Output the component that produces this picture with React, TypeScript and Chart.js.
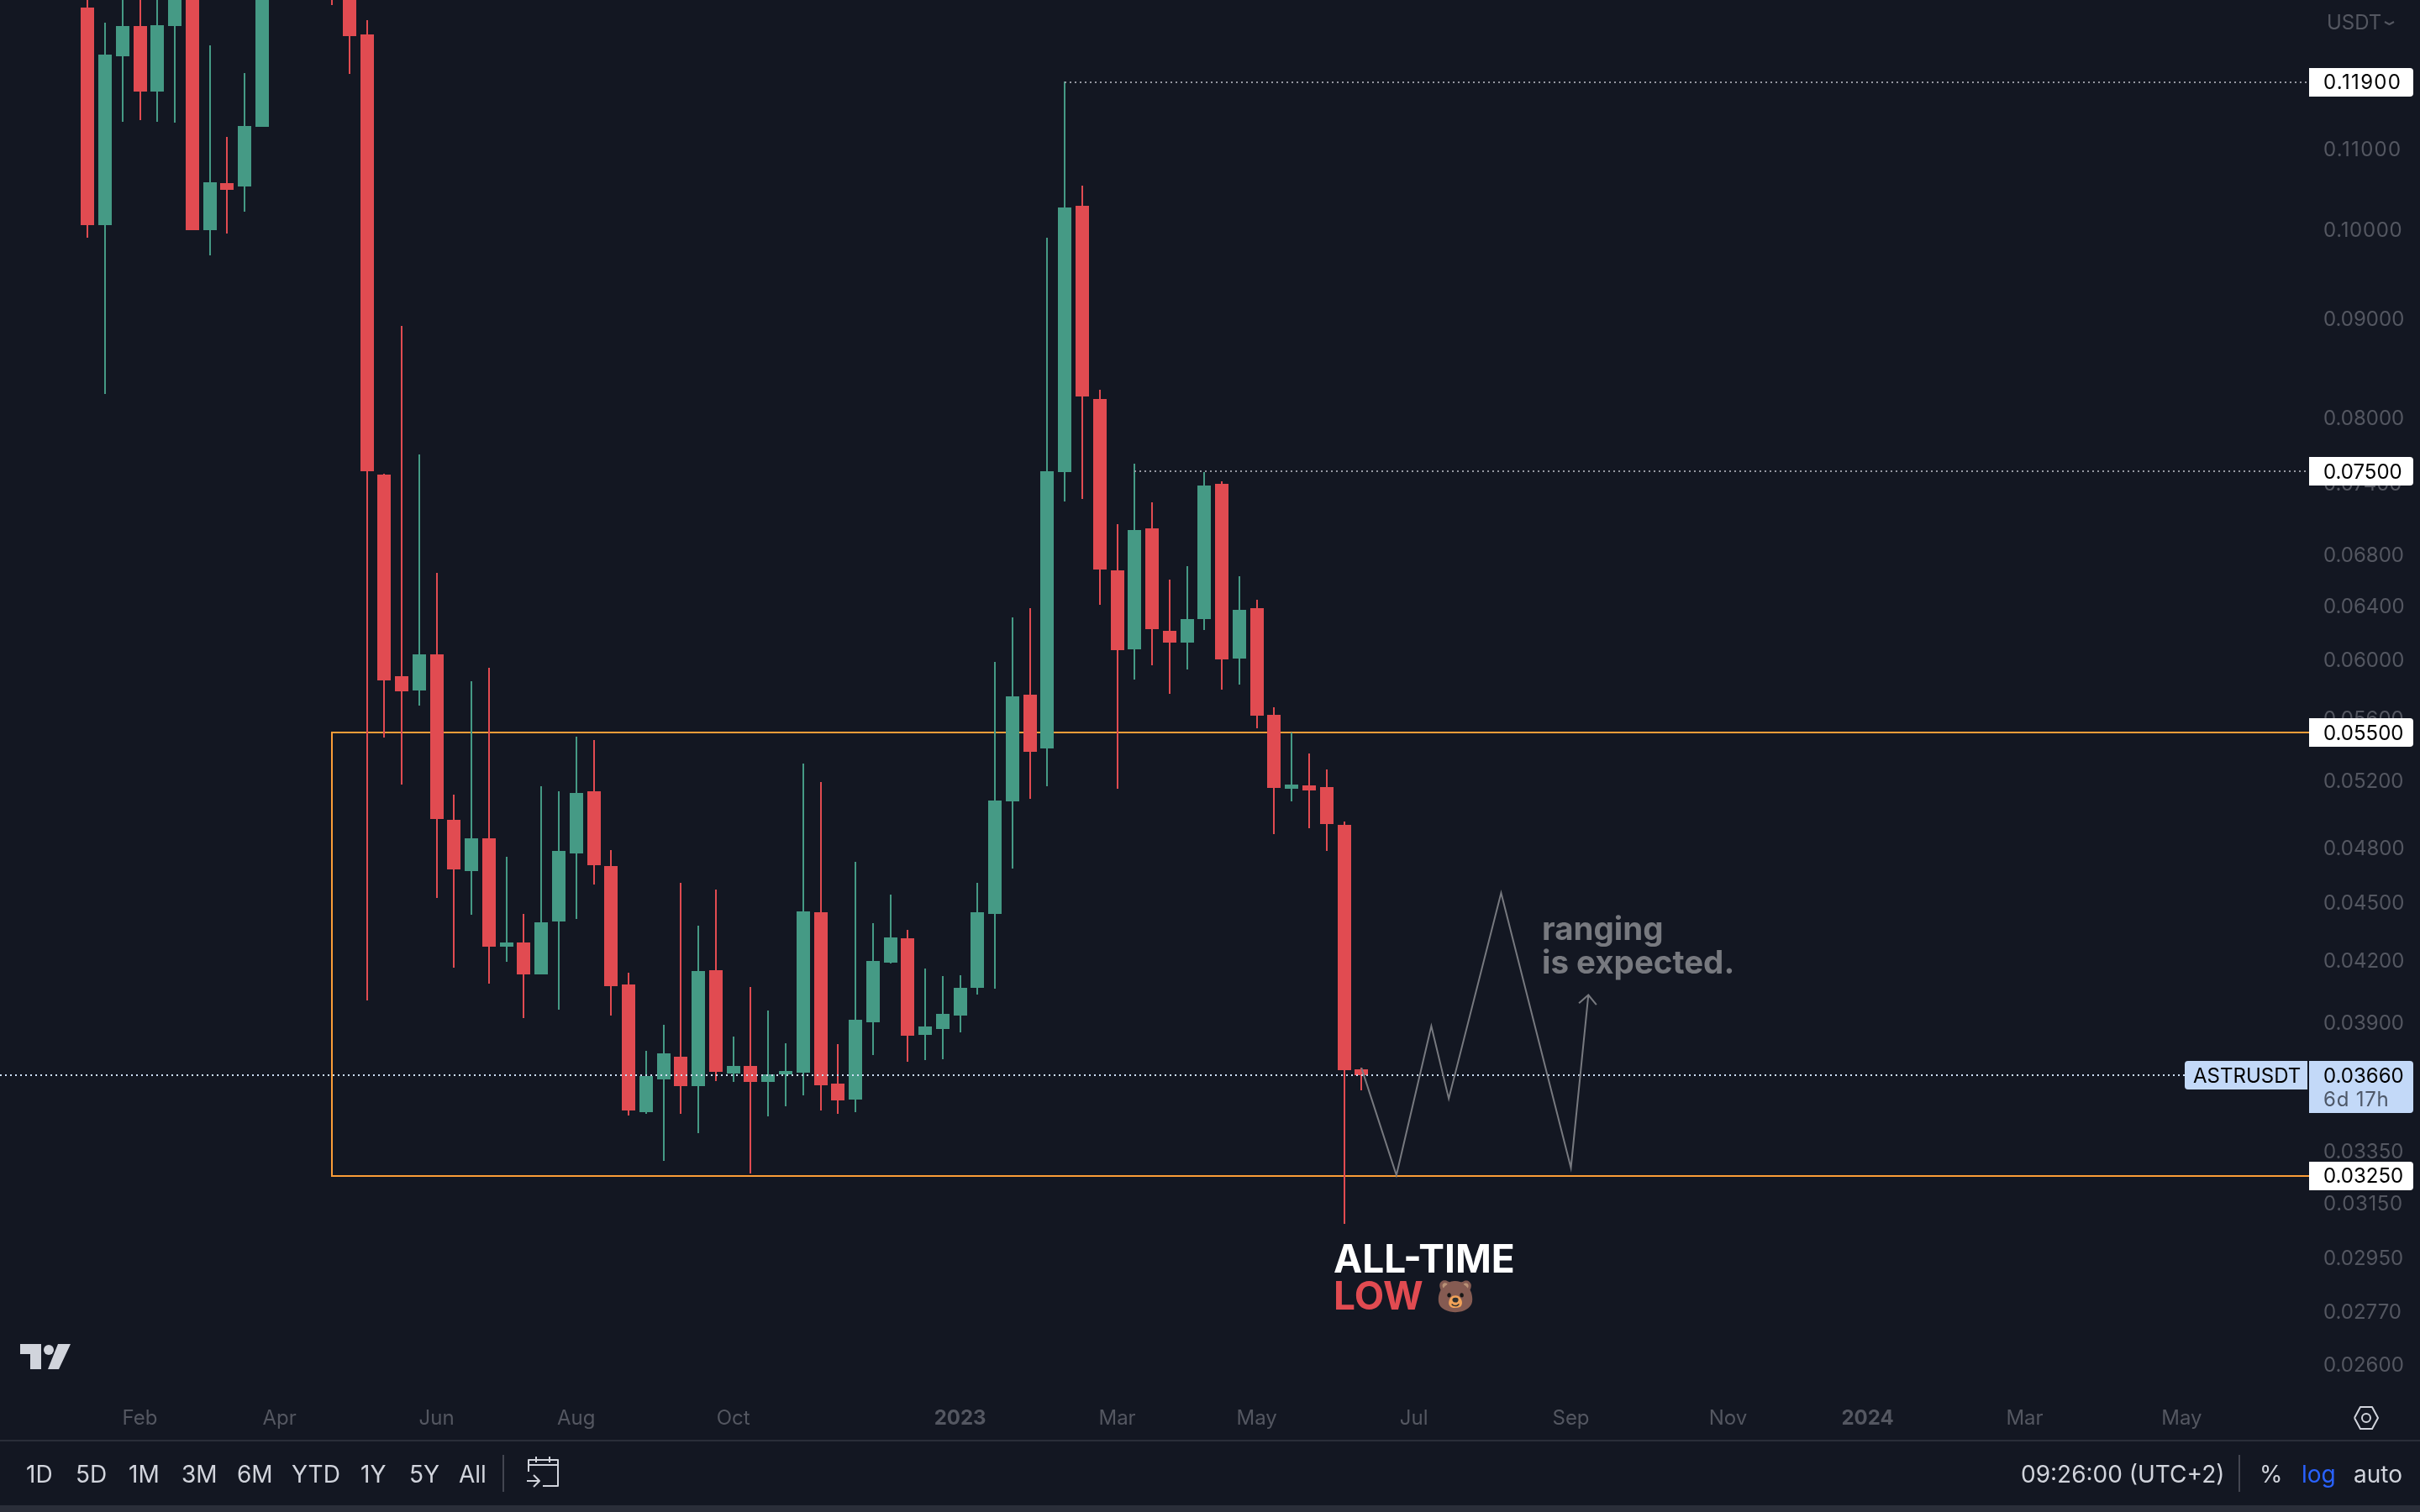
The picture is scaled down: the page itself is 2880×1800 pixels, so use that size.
import React, { useEffect, useRef } from "react";
import { Chart, registerables } from "chart.js";

Chart.register(...registerables);

const FONT = "Inter";
const BG = "#131722";
const UP = "#459a85";
const DOWN = "#e14b51";
const AXIS_TEXT = "#545761";
const CHROME_TEXT = "#d1d4dc";
const ORANGE = "#fb9d38";
const DRAW_GRAY = "#77797f";

const opens: (number | null)[] = [
  0.12996, 0.10039, 0.12265, 0.12716, 0.11763, 0.12716, 0.1345, 0.09977, 0.10552, 0.1051, 0.11281, null, null, null,
  0.14, 0.1335, 0.12587, 0.07463, 0.05876, 0.05777, 0.06031, 0.04956, 0.04664, 0.04848, 0.04263, 0.04285, 0.04125,
  0.04392, 0.04763, 0.05126, 0.04692, 0.04075, 0.03503, 0.03641, 0.03741, 0.03613, 0.04145, 0.03667, 0.037, 0.03631,
  0.03664, 0.03671, 0.04441, 0.03624, 0.03556, 0.03896, 0.04183, 0.04305, 0.03839, 0.03866, 0.03928, 0.04059, 0.04431,
  0.05065, 0.0575, 0.05394, 0.07485, 0.10271, 0.08166, 0.06664, 0.06067, 0.07005, 0.06201, 0.06116, 0.0629, 0.07383,
  0.06002, 0.06369, 0.05613, 0.05143, 0.05163, 0.05151, 0.04925, 0.03684,
];
const closes: (number | null)[] = [
  0.10039, 0.12287, 0.12716, 0.11763, 0.12727, 0.1345, 0.09977, 0.10562, 0.10467, 0.11291, 0.1345, null, null, null,
  0.1335, 0.12564, 0.07494, 0.05848, 0.05772, 0.06031, 0.0496, 0.04673, 0.04848, 0.04263, 0.04285, 0.04125, 0.04387,
  0.04776, 0.05116, 0.04695, 0.04067, 0.0351, 0.03657, 0.03756, 0.03613, 0.04142, 0.03674, 0.037, 0.03631, 0.03664,
  0.03678, 0.04445, 0.03617, 0.03552, 0.03909, 0.04191, 0.0431, 0.03835, 0.03878, 0.03936, 0.04059, 0.0444, 0.0507,
  0.05736, 0.05372, 0.07494, 0.10248, 0.08189, 0.06668, 0.0606, 0.06989, 0.06215, 0.06116, 0.0629, 0.0737, 0.05995,
  0.06359, 0.05607, 0.05147, 0.05166, 0.05131, 0.04931, 0.03681, 0.0366,
];
const highs: (number | null)[] = [
  0.134, 0.12766, 0.134, 0.134, 0.134, 0.137, 0.137, 0.12425, 0.11145, 0.12022, 0.137, null, null, null,
  0.142, 0.136, 0.12801, 0.07473, 0.08906, 0.07646, 0.06643, 0.05106, 0.05841, 0.05936, 0.04744, 0.04432, 0.05157,
  0.05125, 0.05469, 0.05448, 0.04781, 0.04134, 0.03767, 0.03886, 0.04598, 0.0437, 0.04562, 0.03831, 0.04064, 0.03952,
  0.03801, 0.05297, 0.05184, 0.03798, 0.04714, 0.04384, 0.04535, 0.0435, 0.04154, 0.04116, 0.0412, 0.04598, 0.05977,
  0.06301, 0.06369, 0.09885, 0.119, 0.10522, 0.08255, 0.07037, 0.07563, 0.07225, 0.06589, 0.06695, 0.07485, 0.07404,
  0.06615, 0.06436, 0.05665, 0.05498, 0.05362, 0.0526, 0.04945, 0.03692,
];
const lows: (number | null)[] = [
  0.09888, 0.08217, 0.11346, 0.11372, 0.11346, 0.11337, 0.09977, 0.09683, 0.09936, 0.10201, 0.11281, null, null, null,
  0.13036, 0.12011, 0.03998, 0.05465, 0.05167, 0.05676, 0.04518, 0.04158, 0.04427, 0.0408, 0.04186, 0.03916, 0.04125,
  0.03955, 0.04405, 0.04589, 0.03929, 0.03489, 0.03496, 0.03306, 0.03496, 0.03417, 0.03634, 0.03631, 0.03257, 0.03485,
  0.03526, 0.03573, 0.0351, 0.03496, 0.03503, 0.03749, 0.04178, 0.03717, 0.03726, 0.0373, 0.0385, 0.04027, 0.04055,
  0.04677, 0.05081, 0.05157, 0.07228, 0.07253, 0.06395, 0.05143, 0.05853, 0.05954, 0.05753, 0.05923, 0.06207, 0.05782,
  0.05819, 0.05524, 0.04873, 0.05065, 0.04905, 0.04776, 0.03067, 0.03593,
];

const priceTicks = [
  0.11, 0.1, 0.09, 0.08, 0.074, 0.068, 0.064, 0.06, 0.056, 0.052, 0.048, 0.045, 0.042, 0.039, 0.0335, 0.0315, 0.0295,
  0.0277, 0.026,
];
const monthWeeks = [3, 11, 20, 28, 37, 50, 59, 67, 76, 85, 94, 102, 111, 120];
const monthLabels = ["Feb", "Apr", "Jun", "Aug", "Oct", "2023", "Mar", "May", "Jul", "Sep", "Nov", "2024", "Mar", "May"];

const WEEK_MIN = -5.02;
const WEEK_MAX = 127.3;
const PRICE_MIN = 0.025055;
const PRICE_MAX = 0.13112;

const ZONE_TOP = 0.055;
const ZONE_BOTTOM = 0.0325;
const ZONE_START = 14;
const HIGH_LEVEL = 0.119;
const HIGH_LEVEL_START = 56;
const MID_LEVEL = 0.075;
const MID_LEVEL_START = 60;
const LAST_PRICE = 0.0366;
const LAST_PRICE_END = 120.2;

const pathWeeks = [73, 75, 77, 78, 81, 85, 86];
const pathPrices = [0.03691, 0.0325, 0.03879, 0.03559, 0.04543, 0.03279, 0.04025];
const arrowWeeks = [85.46, 86, 86.46];
const arrowPrices = [0.03986, 0.04025, 0.03979];

const rangeButtons: [string, number][] = [
  ["1D", 31], ["5D", 90], ["1M", 153], ["3M", 216], ["6M", 282], ["YTD", 347], ["1Y", 429], ["5Y", 487], ["All", 546],
];

const weeks = opens.map((_, i) => i).filter((i) => opens[i] !== null);
const candleColor = (i: number) => ((closes[i] as number) >= (opens[i] as number) ? UP : DOWN);

// The reference uses tabular digits; Inter's narrow "1" is widened by tracking the string.
const tabularSpacing = (s: string) => `${(((s.match(/1/g) || []).length * 4.6) / s.length).toFixed(2)}px`;

function label(
  ctx: CanvasRenderingContext2D,
  s: string,
  x: number,
  y: number,
  color: string,
  font: string,
  align: CanvasTextAlign = "left",
  base: CanvasTextBaseline = "middle"
) {
  ctx.fillStyle = color;
  ctx.font = font;
  ctx.textAlign = align;
  ctx.textBaseline = base;
  ctx.fillText(s, x, y);
}

function priceText(ctx: CanvasRenderingContext2D, s: string, y: number, color = "#000000") {
  (ctx as any).letterSpacing = tabularSpacing(s);
  label(ctx, s, 2765, y, color, `24px ${FONT}`);
  (ctx as any).letterSpacing = "0px";
}

function tag(ctx: CanvasRenderingContext2D, y: number, text: string) {
  ctx.fillStyle = "#ffffff";
  ctx.beginPath();
  ctx.roundRect(2748, Math.ceil(y) - 17, 124, 34, [0, 4, 4, 0]);
  ctx.fill();
  priceText(ctx, text, y + 2);
}

function strokePath(ctx: CanvasRenderingContext2D, pts: number[][], color: string, w = 2) {
  ctx.strokeStyle = color;
  ctx.lineWidth = w;
  ctx.lineJoin = "round";
  ctx.beginPath();
  pts.forEach(([x, y], i) => (i ? ctx.lineTo(x, y) : ctx.moveTo(x, y)));
  ctx.stroke();
}

const fixedLayout = {
  id: "fixedLayout",
  afterLayout(chart: any) {
    const { x, y } = chart.scales;
    const area = chart.chartArea;
    area.top = 0;
    area.bottom = 1660;
    area.height = 1660;
    area.left = 0;
    area.right = 2748;
    area.width = 2748;
    y.top = 0;
    y.bottom = 1660;
    y.height = 1660;
    y.left = 2748;
    y.right = 2880;
    y.width = 132;
    x.left = 0;
    x.right = 2748;
    x.width = 2748;
    x.top = 1660;
    x.bottom = 1715;
    x.height = 55;
    x.configure();
    y.configure();
    const ctx = chart.ctx;
    const drawLabels = y.drawLabels;
    y.drawLabels = function (a: any) {
      const items = this.getLabelItems(a);
      ctx.save();
      ctx.translate(0, 3);
      items.forEach((item: any) => {
        this._labelItems = [item];
        ctx.letterSpacing = tabularSpacing(String(item.label));
        drawLabels.call(this, a);
      });
      ctx.letterSpacing = "0px";
      ctx.restore();
      this._labelItems = items;
    };
  },
};

const snapMarks = {
  id: "snapMarks",
  afterDatasetsUpdate(chart: any) {
    chart.data.datasets.forEach((ds: any, i: number) => {
      if (ds.type !== "bar" && !ds.snap) return;
      chart.getDatasetMeta(i).data.forEach((el: any) => {
        el.x = Math.round(el.x);
        el.y = ds.type === "bar" ? Math.round(el.y) : Math.ceil(el.y);
        if (ds.type === "bar") el.base = Math.round(el.base);
      });
    });
  },
};

const paintBackground = {
  id: "paintBackground",
  beforeDraw(chart: any) {
    const { ctx, width, height } = chart;
    ctx.save();
    ctx.fillStyle = BG;
    ctx.fillRect(0, 0, width, height);
    ctx.restore();
  },
};

const chrome = {
  id: "chrome",
  afterDraw(chart: any) {
    const ctx: CanvasRenderingContext2D = chart.ctx;
    const py = (v: number) => chart.scales.y.getPixelForValue(v);
    ctx.save();

    // annotations
    label(ctx, "ranging", 1835, 1119, DRAW_GRAY, `700 38.5px ${FONT}`, "left", "alphabetic");
    label(ctx, "is expected.", 1835, 1159, DRAW_GRAY, `700 38.5px ${FONT}`, "left", "alphabetic");
    label(ctx, "ALL-TIME", 1587, 1515, "#ffffff", `700 46px ${FONT}`, "left", "alphabetic");
    label(ctx, "LOW", 1587, 1559, DOWN, `700 46px ${FONT}`, "left", "alphabetic");
    label(ctx, "🐻", 1709, 1556, "#ffffff", `37px ${FONT}, "Noto Color Emoji", "Noto Sans"`, "left", "alphabetic");

    // price tags
    tag(ctx, py(HIGH_LEVEL), "0.11900");
    tag(ctx, py(MID_LEVEL), "0.07500");
    tag(ctx, py(ZONE_TOP), "0.05500");
    tag(ctx, py(ZONE_BOTTOM), "0.03250");

    const lastY = py(LAST_PRICE);
    ctx.fillStyle = "#c3d9f8";
    ctx.beginPath();
    ctx.roundRect(2748, Math.ceil(lastY) - 17, 124, 62, [0, 4, 4, 0]);
    ctx.fill();
    ctx.beginPath();
    ctx.roundRect(2600, Math.ceil(lastY) - 17, 146, 34, [4, 0, 0, 4]);
    ctx.fill();
    label(ctx, "ASTRUSDT", 2610, lastY + 2, "#000000", `24px ${FONT}`);
    priceText(ctx, "0.03660", lastY + 2);
    priceText(ctx, "6d 17h", lastY + 30, "#4e5868");

    // currency
    label(ctx, "USDT", 2769, 28, AXIS_TEXT, `24px ${FONT}`);
    strokePath(ctx, [[2838, 26], [2843.5, 29], [2849, 26]], AXIS_TEXT);

    // logo
    ctx.fillStyle = CHROME_TEXT;
    ctx.beginPath();
    ctx.moveTo(24, 1600);
    ctx.lineTo(49, 1600);
    ctx.lineTo(49, 1630);
    ctx.lineTo(36, 1630);
    ctx.lineTo(36, 1612);
    ctx.lineTo(24, 1612);
    ctx.closePath();
    ctx.moveTo(69, 1600);
    ctx.lineTo(84, 1600);
    ctx.lineTo(70, 1630);
    ctx.lineTo(57, 1630);
    ctx.closePath();
    ctx.fill();
    ctx.beginPath();
    ctx.arc(58, 1607, 6, 0, Math.PI * 2);
    ctx.fill();

    // settings hexagon
    strokePath(
      ctx,
      [[2802, 1688], [2809, 1675], [2823, 1675], [2830, 1688], [2823, 1701], [2809, 1701], [2802, 1688]],
      CHROME_TEXT
    );
    ctx.beginPath();
    ctx.arc(2816, 1688, 5, 0, Math.PI * 2);
    ctx.stroke();

    // toolbar
    ctx.fillStyle = "#2a2e39";
    ctx.fillRect(0, 1714, 2880, 2);
    ctx.fillRect(0, 1792, 2880, 8);
    rangeButtons.forEach(([s, x]) => label(ctx, s, x, 1757, CHROME_TEXT, `28px ${FONT}`));
    ctx.fillStyle = "#434651";
    ctx.fillRect(598, 1732, 2, 44);
    ctx.fillRect(2664, 1732, 2, 44);
    strokePath(ctx, [[629, 1752], [629, 1738], [664, 1738], [664, 1769], [646, 1769]], CHROME_TEXT);
    strokePath(ctx, [[629, 1744], [664, 1744]], CHROME_TEXT);
    strokePath(ctx, [[638, 1734], [638, 1741]], CHROME_TEXT);
    strokePath(ctx, [[654, 1734], [654, 1741]], CHROME_TEXT);
    strokePath(ctx, [[627, 1763], [642, 1763]], CHROME_TEXT);
    strokePath(ctx, [[635, 1756], [642, 1763], [635, 1770]], CHROME_TEXT);

    label(ctx, "09:26:00 (UTC+2)", 2405, 1757, CHROME_TEXT, `28px ${FONT}`);
    label(ctx, "%", 2689, 1757, CHROME_TEXT, `28px ${FONT}`);
    label(ctx, "log", 2739, 1757, "#2962ff", `28px ${FONT}`);
    label(ctx, "auto", 2801, 1757, CHROME_TEXT, `28px ${FONT}`);

    ctx.restore();
  },
};

export default function App() {
  const ref = useRef<HTMLCanvasElement>(null);

  useEffect(() => {
    document.body.style.margin = "0";
    document.body.style.background = BG;
    const lineBase = { type: "line", pointRadius: 0, tension: 0, fill: false };
    const chart = new Chart(ref.current as HTMLCanvasElement, {
      type: "bar",
      data: {
        datasets: [
          {
            ...lineBase,
            order: 1,
            data: pathWeeks.map((x, i) => ({ x, y: pathPrices[i] })),
            borderColor: DRAW_GRAY,
            borderWidth: 2,
          },
          {
            ...lineBase,
            order: 1,
            data: arrowWeeks.map((x, i) => ({ x, y: arrowPrices[i] })),
            borderColor: DRAW_GRAY,
            borderWidth: 2,
          },
          {
            ...lineBase,
            order: 2,
            snap: true,
            data: [
              { x: WEEK_MIN, y: LAST_PRICE },
              { x: LAST_PRICE_END, y: LAST_PRICE },
            ],
            borderColor: "#cfe0f8",
            borderWidth: 2,
            borderDash: [2, 4],
          },
          {
            ...lineBase,
            order: 3,
            snap: true,
            data: [
              { x: HIGH_LEVEL_START, y: HIGH_LEVEL },
              { x: WEEK_MAX, y: HIGH_LEVEL },
            ],
            borderColor: "#9598a1",
            borderWidth: 2,
            borderDash: [2, 4],
          },
          {
            ...lineBase,
            order: 3,
            snap: true,
            data: [
              { x: MID_LEVEL_START, y: MID_LEVEL },
              { x: WEEK_MAX, y: MID_LEVEL },
            ],
            borderColor: "#9598a1",
            borderWidth: 2,
            borderDash: [2, 4],
          },
          {
            type: "bar",
            order: 4,
            grouped: false,
            barThickness: 16,
            inflateAmount: 0,
            borderWidth: 0,
            data: weeks.map((i) => ({ x: i, y: [opens[i], closes[i]] })),
            backgroundColor: weeks.map(candleColor),
          },
          {
            type: "bar",
            order: 5,
            grouped: false,
            barThickness: 2,
            inflateAmount: 0,
            borderWidth: 0,
            data: weeks.map((i) => ({ x: i, y: [lows[i], highs[i]] })),
            backgroundColor: weeks.map(candleColor),
          },
          {
            ...lineBase,
            order: 10,
            snap: true,
            data: [
              { x: WEEK_MAX, y: ZONE_TOP },
              { x: ZONE_START, y: ZONE_TOP },
              { x: ZONE_START, y: ZONE_BOTTOM },
              { x: WEEK_MAX, y: ZONE_BOTTOM },
            ],
            borderColor: ORANGE,
            borderWidth: 2,
          },
        ] as any,
      },
      options: {
        animation: false,
        responsive: false,
        devicePixelRatio: 1,
        layout: { autoPadding: false, padding: { left: 0, top: 0, right: 0, bottom: 85 } },
        font: { family: FONT },
        plugins: { legend: { display: false }, tooltip: { enabled: false } },
        scales: {
          x: {
            type: "linear",
            offset: false,
            min: WEEK_MIN,
            max: WEEK_MAX,
            grid: { display: false },
            border: { display: false },
            afterBuildTicks: (s: any) => {
              s.ticks = monthWeeks.map((value) => ({ value }));
            },
            afterFit: (s: any) => {
              s.height = 55;
            },
            ticks: {
              autoSkip: false,
              maxRotation: 0,
              minRotation: 0,
              padding: 6,
              color: AXIS_TEXT,
              font: (c: any) => ({
                family: FONT,
                size: 24,
                weight: /^\d/.test(monthLabels[c.index] ?? "") ? "700" : "400",
              }),
              callback: (_v: any, i: number) => monthLabels[i],
            },
          },
          y: {
            type: "logarithmic",
            position: "right",
            min: PRICE_MIN,
            max: PRICE_MAX,
            grid: { display: false },
            border: { display: false },
            afterBuildTicks: (s: any) => {
              s.ticks = priceTicks.map((value) => ({ value }));
            },
            afterFit: (s: any) => {
              s.width = 132;
            },
            ticks: {
              autoSkip: false,
              padding: 9,
              color: AXIS_TEXT,
              font: { family: FONT, size: 24 },
              callback: (v: any) => Number(v).toFixed(5),
            },
          },
        },
      } as any,
      plugins: [paintBackground, fixedLayout, snapMarks, chrome],
    } as any);
    return () => chart.destroy();
  }, []);

  return (
    <div style={{ width: 2880, height: 1800, overflow: "hidden" }}>
      <canvas ref={ref} width={2880} height={1800} style={{ display: "block" }} />
    </div>
  );
}
